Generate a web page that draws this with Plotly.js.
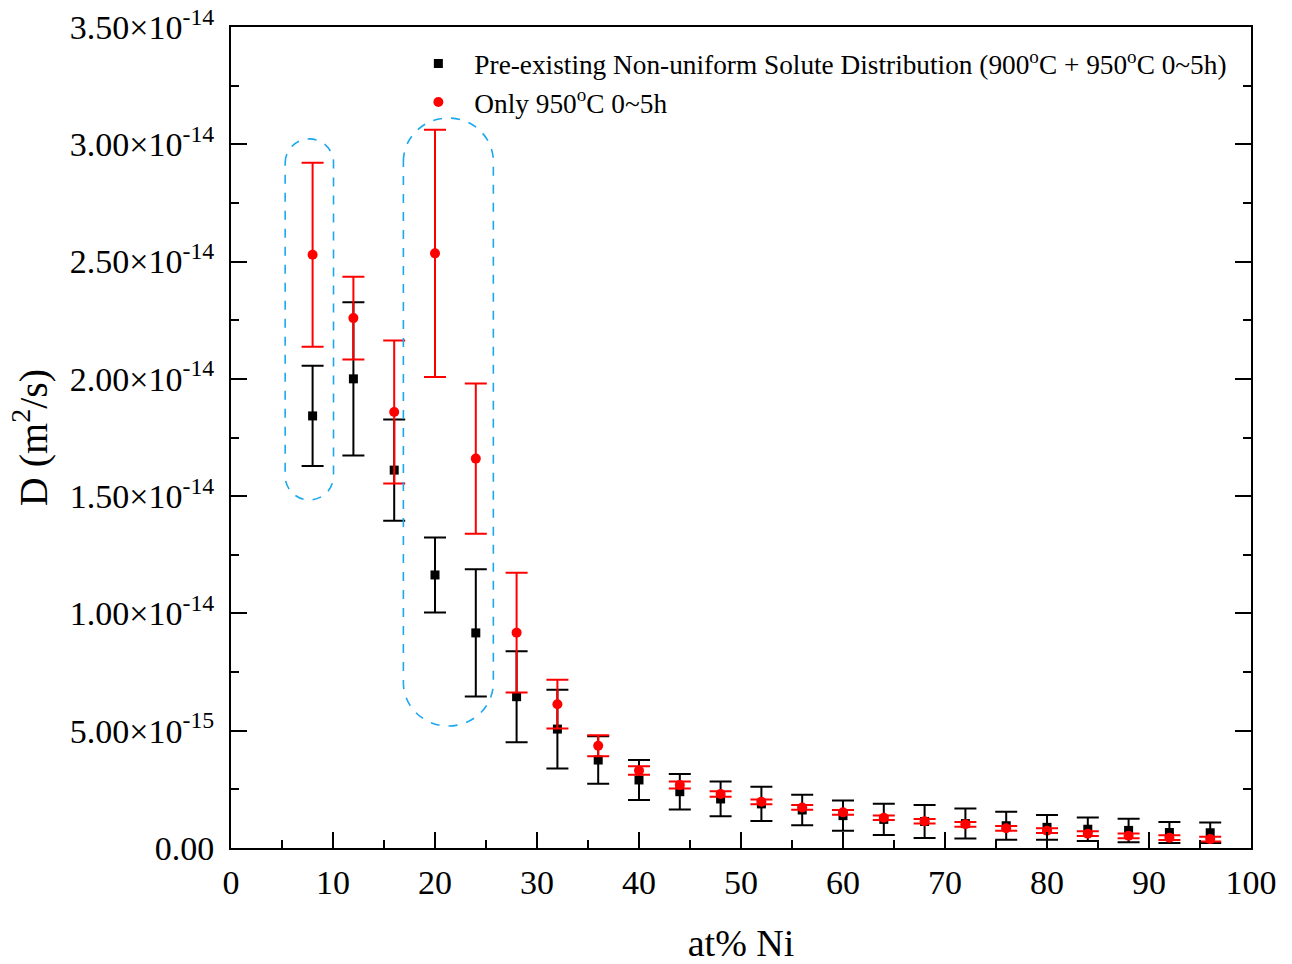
<!DOCTYPE html>
<html>
<head>
<meta charset="utf-8">
<script src="https://cdn.plot.ly/plotly-3.0.1.min.js"></script>
<style>html,body{margin:0;padding:0;background:#fff;}#chart{width:1292px;height:964px;}</style>
</head>
<body>
<div id="chart"></div>
<script>
// at% Ni positions
const niPct = [8,12,16,20,24,28,32,36,40,44,48,52,56,60,64,68,72,76,80,84,88,92,96];

// Pre-existing Non-uniform Solute Distribution (900°C + 950°C 0~5h)
const dPre = [1.842e-14,2.000e-14,1.611e-14,1.164e-14,0.917e-14,0.645e-14,0.507e-14,0.375e-14,0.290e-14,0.240e-14,0.209e-14,0.188e-14,0.162e-14,0.138e-14,0.122e-14,0.113e-14,0.104e-14,0.095e-14,0.088e-14,0.080e-14,0.075e-14,0.066e-14,0.065e-14];
const errPre = [0.214e-14,0.327e-14,0.216e-14,0.160e-14,0.271e-14,0.194e-14,0.168e-14,0.101e-14,0.085e-14,0.076e-14,0.074e-14,0.073e-14,0.065e-14,0.064e-14,0.067e-14,0.070e-14,0.064e-14,0.060e-14,0.053e-14,0.050e-14,0.050e-14,0.045e-14,0.044e-14];

// Only 950°C 0~5h
const dOnly = [2.529e-14,2.259e-14,1.859e-14,2.535e-14,1.660e-14,0.918e-14,0.613e-14,0.436e-14,0.330e-14,0.269e-14,0.230e-14,0.197e-14,0.173e-14,0.152e-14,0.129e-14,0.114e-14,0.101e-14,0.084e-14,0.074e-14,0.061e-14,0.052e-14,0.044e-14,0.038e-14];
const errOnly = [0.392e-14,0.176e-14,0.305e-14,0.527e-14,0.320e-14,0.255e-14,0.104e-14,0.045e-14,0.018e-14,0.015e-14,0.012e-14,0.010e-14,0.010e-14,0.010e-14,0.010e-14,0.010e-14,0.010e-14,0.010e-14,0.010e-14,0.010e-14,0.010e-14,0.010e-14,0.010e-14];

// y tick values and labels
const yTickVals = [0,0.5e-14,1.0e-14,1.5e-14,2.0e-14,2.5e-14,3.0e-14,3.5e-14];
const yTickText = ['0.00','5.00×10<sup>-15</sup>','1.00×10<sup>-14</sup>','1.50×10<sup>-14</sup>','2.00×10<sup>-14</sup>','2.50×10<sup>-14</sup>','3.00×10<sup>-14</sup>','3.50×10<sup>-14</sup>'];
const yMinorVals = [0.25e-14,0.75e-14,1.25e-14,1.75e-14,2.25e-14,2.75e-14,3.25e-14];

// highlight capsules: [centre x, half width x, top y, bottom y, end radius y]
const capsuleA = [7.68, 2.37, 3.023e-14, 1.484e-14, 0.102e-14];
const capsuleB = [21.31, 4.41, 3.112e-14, 0.520e-14, 0.185e-14];

function capsulePath(c){
  const [cx,w,yT,yB,ry]=c, k=0.5523, xl=cx-w, xr=cx+w;
  return `M ${xl},${yT-ry} C ${xl},${yT-ry+k*ry} ${cx-k*w},${yT} ${cx},${yT} `+
         `C ${cx+k*w},${yT} ${xr},${yT-ry+k*ry} ${xr},${yT-ry} `+
         `L ${xr},${yB+ry} C ${xr},${yB+ry-k*ry} ${cx+k*w},${yB} ${cx},${yB} `+
         `C ${cx-k*w},${yB} ${xl},${yB+ry-k*ry} ${xl},${yB+ry} Z`;
}

const font = '"Liberation Serif", "Times New Roman", serif';

const traces = [
  {x:niPct, y:dPre, type:'scatter', mode:'markers',
   name:'Pre-existing Non-uniform Solute Distribution (900<sup>o</sup>C + 950<sup>o</sup>C 0~5h)',
   marker:{symbol:'square', size:9, color:'#000'},
   error_y:{type:'data', array:errPre, visible:true, color:'#000', thickness:2, width:11}},
  {x:niPct, y:dOnly, type:'scatter', mode:'markers',
   name:'Only 950<sup>o</sup>C 0~5h',
   marker:{symbol:'circle', size:10, color:'#ff0000'},
   error_y:{type:'data', array:errOnly, visible:true, color:'#ff0000', thickness:2, width:11}}
];

const layout = {
  width:1292, height:964,
  margin:{l:231, r:41, t:27, b:116},
  paper_bgcolor:'#fff', plot_bgcolor:'#fff',
  font:{family:font, color:'#000'},
  showlegend:true,
  legend:{x:0.168, y:0.985, xanchor:'left', yanchor:'top', font:{size:27.3, family:font}, bgcolor:'rgba(0,0,0,0)', tracegroupgap:0, itemwidth:62},
  xaxis:{range:[0,100], dtick:10, tick0:0, ticks:'inside', ticklen:16, tickwidth:2, tickcolor:'#000',
    showline:true, linewidth:2, linecolor:'#000', mirror:true, showgrid:false, zeroline:false,
    tickfont:{size:34, family:font}, ticklabelstandoff:3,
    minor:{dtick:5, ticks:'inside', ticklen:8, tickwidth:2, tickcolor:'#000', showgrid:false},
    title:{text:'at% Ni', font:{size:38, family:font}, standoff:30}},
  yaxis:{range:[0,3.5e-14], tickmode:'array', tickvals:yTickVals, ticktext:yTickText,
    ticks:'inside', ticklen:16, tickwidth:2, tickcolor:'#000',
    showline:true, linewidth:2, linecolor:'#000', mirror:'ticks', showgrid:false, zeroline:false,
    tickfont:{size:34, family:font}, ticklabelstandoff:8,
    minor:{tickmode:'array', tickvals:yMinorVals, ticks:'inside', ticklen:8, tickwidth:2, tickcolor:'#000', showgrid:false},
    title:{text:'D (m<sup>2</sup>/s)', font:{size:40, family:font}, standoff:10}},
  shapes:[
    {type:'path', xref:'x', yref:'y', path:capsulePath(capsuleA), line:{color:'#1ca8ef', width:1.6, dash:'dash'}},
    {type:'path', xref:'x', yref:'y', path:capsulePath(capsuleB), line:{color:'#1ca8ef', width:1.6, dash:'dash'}}
  ]
};

Plotly.newPlot('chart', traces, layout, {displayModeBar:false, staticPlot:true});
</script>
</body>
</html>
